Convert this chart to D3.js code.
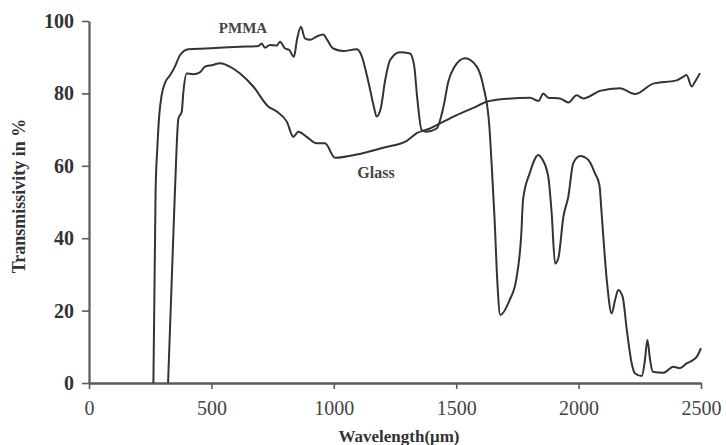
<!DOCTYPE html>
<html>
<head>
<meta charset="utf-8">
<script src="https://cdn.jsdelivr.net/npm/d3@7"></script>
<style>
  html, body { margin: 0; padding: 0; background: #fff; }
  svg { display: block; }
  text { font-family: "Liberation Serif", "Times New Roman", serif; }
</style>
</head>
<body>
<svg id="chart" width="726" height="445"></svg>
<script>
// Transmission spectra: wavelength vs transmissivity (%)
const pmmaWavelength = [263,272,279,287,297,310,331,351,372,406,480,617,692,705,719,739,767,780,801,818,837,850,866,882,903,930,957,973,998,1039,1094,1110,1141,1162,1175,1192,1209,1230,1270,1311,1328,1341,1359,1379,1420,1447,1468,1490,1536,1584,1611,1635,1645,1657,1668,1680,1718,1745,1766,1773,1800,1836,1850,1876,1890,1904,1917,1938,1958,1978,2006,2040,2067,2085,2094,2115,2135,2149,2162,2180,2197,2217,2230,2258,2271,2281,2292,2303,2346,2387,2414,2441,2469,2483,2500];
const pmmaTransmissivity = [0,53,64.8,74,79.6,82.8,85,87.4,90.6,92.2,92.4,92.9,93.1,93.8,92.6,93.4,93.2,94.3,92.4,92,90.1,95,98.4,95.2,94.8,95.7,96.3,94.8,92.4,91.7,92.2,91,83.3,76.8,73.6,75.9,83.3,89.2,91.4,91,87.8,78.6,69.9,69.4,70.3,76,83.3,87,89.7,87.4,81.9,71.3,60.2,45,28,18.8,22.9,28.5,41.3,50.6,57.9,63,62,57,46.9,33,34.4,46,51.5,60.7,62.7,61.6,57.9,54.7,46.9,28.5,19.2,22.9,25.7,23.8,14.6,5.4,2.7,1.9,6.4,11.9,6.4,3.1,2.8,4.5,4.1,5.4,6.4,7.3,9.6];

const glassWavelength = [323,351,365,379,385,399,426,453,474,501,535,569,617,671,732,767,808,835,855,889,930,964,1005,1094,1202,1298,1339,1393,1434,1502,1570,1625,1706,1801,1836,1856,1876,1924,1958,1992,2019,2074,2087,2169,2230,2305,2400,2428,2441,2462,2476,2496];
const glassTransmissivity = [0,53,73,75,80,85.5,85.3,85.8,87.4,87.8,88.3,87.6,85.5,81.9,76.4,75,72.2,68,69.4,68,66.2,66.2,62.2,63.1,65,66.9,69,70.3,71.7,74,76,77.7,78.5,78.8,77.9,80,78.8,78.6,77.5,79.5,78.6,80.3,80.7,81.4,79.8,82.7,83.6,84.6,85.1,81.9,83.3,85.6];

const xTicks = [0, 500, 1000, 1500, 2000, 2500];
const yTicks = [0, 20, 40, 60, 80, 100];

const svg = d3.select("#chart");

const x = d3.scaleLinear().domain([0, 2500]).range([89, 701]);
const y = d3.scaleLinear().domain([0, 100]).range([383, 21]);

const axisColor = "#5a5a5a";
const lineColor = "#333";

// Y axis
const yAxis = svg.append("g")
  .attr("transform", `translate(${x(0)},0)`)
  .call(d3.axisLeft(y).tickValues(yTicks).tickSize(7).tickSizeOuter(0).tickPadding(8));
yAxis.select(".domain").attr("stroke", axisColor).attr("stroke-width", 2.2);
yAxis.selectAll(".tick line").attr("stroke", axisColor).attr("stroke-width", 1.6);
yAxis.selectAll(".tick text")
  .attr("fill", "#333")
  .style("font-size", "20px")
  .style("font-weight", "bold");

// X axis
const xAxis = svg.append("g")
  .attr("transform", `translate(0,${y(0)})`)
  .call(d3.axisBottom(x).tickValues(xTicks).tickFormat(d3.format("d"))
    .tickSize(6).tickSizeOuter(0).tickPadding(12));
xAxis.select(".domain").attr("stroke", axisColor).attr("stroke-width", 2.6);
xAxis.selectAll(".tick line").attr("stroke", axisColor).attr("stroke-width", 1.6);
xAxis.selectAll(".tick text")
  .attr("fill", "#444")
  .style("font-size", "20px");

// Axis titles
svg.append("text")
  .attr("transform", "translate(25,196) rotate(-90)")
  .attr("text-anchor", "middle")
  .attr("fill", "#333")
  .style("font-size", "18px")
  .style("font-weight", "bold")
  .text("Transmissivity in %");

svg.append("text")
  .attr("x", 399)
  .attr("y", 442)
  .attr("text-anchor", "middle")
  .attr("fill", "#333")
  .style("font-size", "17px")
  .style("font-weight", "bold")
  .text("Wavelength(μm)");

// Curves
const line = d3.line()
  .x(d => x(d[0]))
  .y(d => y(d[1]))
  .curve(d3.curveMonotoneX);

const pmma = d3.zip(pmmaWavelength, pmmaTransmissivity);
const glass = d3.zip(glassWavelength, glassTransmissivity);

svg.append("path")
  .datum(glass)
  .attr("d", line)
  .attr("fill", "none")
  .attr("stroke", lineColor)
  .attr("stroke-width", 2)
  .attr("stroke-linejoin", "round");

svg.append("path")
  .datum(pmma)
  .attr("d", line)
  .attr("fill", "none")
  .attr("stroke", lineColor)
  .attr("stroke-width", 2)
  .attr("stroke-linejoin", "round");

// Series labels
svg.append("text")
  .attr("x", 243).attr("y", 33)
  .attr("text-anchor", "middle")
  .attr("fill", "#444")
  .style("font-size", "15px")
  .style("font-weight", "bold")
  .text("PMMA");

svg.append("text")
  .attr("x", 376).attr("y", 178)
  .attr("text-anchor", "middle")
  .attr("fill", "#444")
  .style("font-size", "16px")
  .style("font-weight", "bold")
  .text("Glass");
</script>
</body>
</html>
